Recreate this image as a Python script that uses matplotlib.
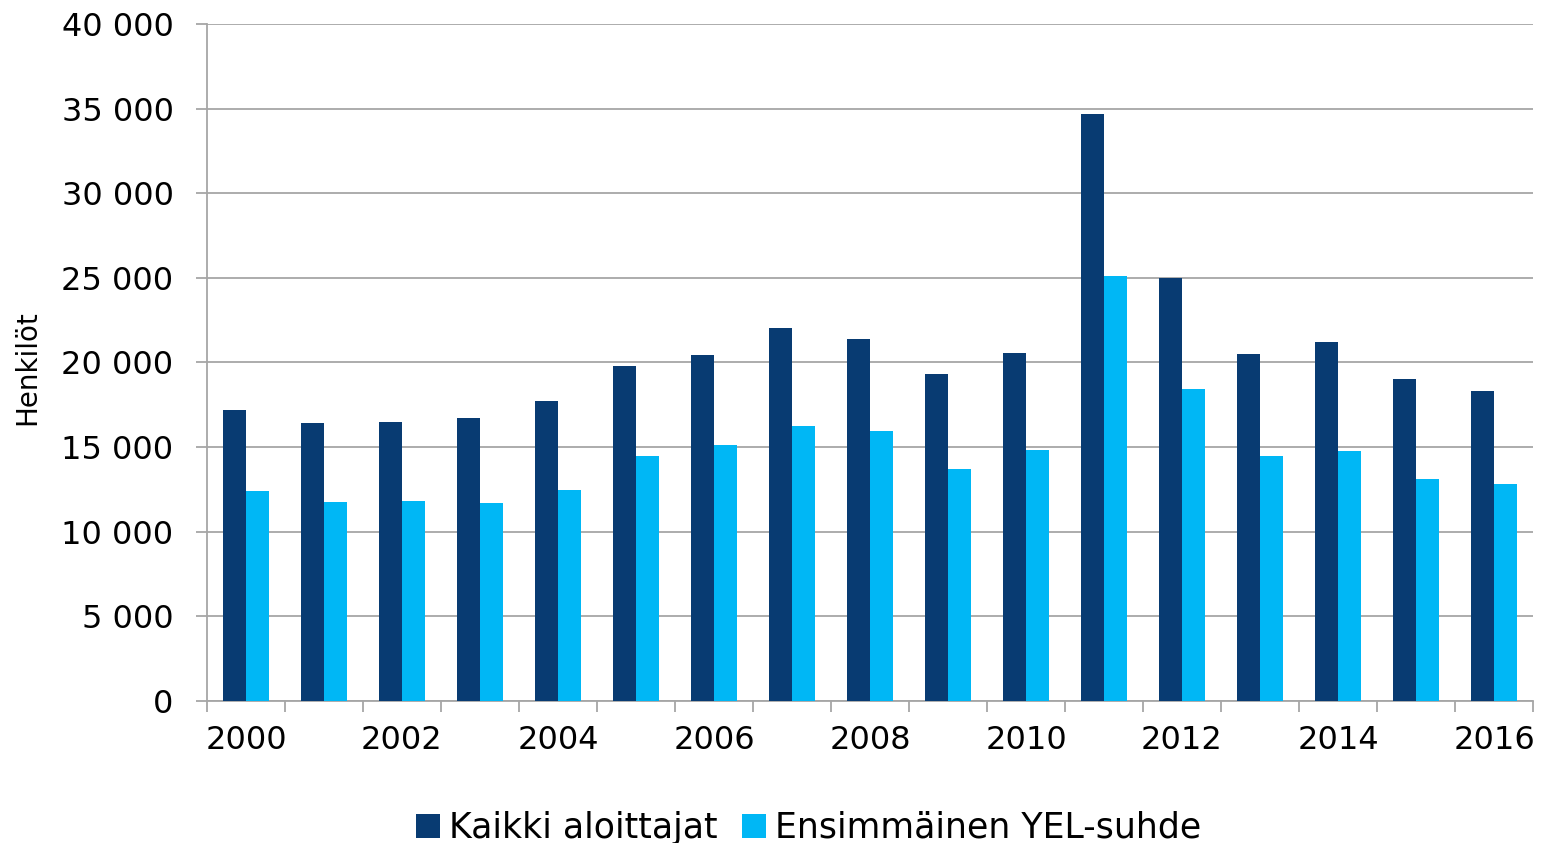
# -*- coding: utf-8 -*-
"""
Aloittaneet yrittäjät vuosittain, kaikki aloittajat ja ensimmäinen YEL-suhde.
"""

import matplotlib as mpl
import matplotlib.pyplot as plt
import numpy as np
from matplotlib.ticker import FuncFormatter

YEARS = list(range(2000, 2017))
KAIKKI = [17200, 16400, 16500, 16700, 17700, 19800, 20450, 22050, 21400,
          19300, 20580, 34670, 24980, 20530, 21200, 19010, 18340]
ENSIMMAINEN = [12400, 11750, 11800, 11700, 12450, 14450, 15100, 16250, 15950,
               13700, 14820, 25130, 18420, 14460, 14760, 13100, 12800]
SERIES_NAMES = ["Kaikki aloittajat", "Ensimmäinen YEL-suhde"]
Y_LABEL = "Henkilöt"

COLOR_DARK = "#083B72"
COLOR_LIGHT = "#00B7F5"
GRID_COLOR = "#A6A6A6"
BAR_W = 0.29
FS = 23
RCPARAMS = {
    "font.family": "DejaVu Sans",
    "font.size": FS,
}


def main():
    for key in RCPARAMS:
        mpl.rcParams[key] = RCPARAMS[key]
    fig = plt.figure(figsize=(15.49, 8.43), dpi=100)
    ax = fig.add_axes([0.1336, 0.1685, 0.8561, 0.803])
    x = np.arange(len(YEARS))
    ax.bar(x - BAR_W / 2, KAIKKI, BAR_W, color=COLOR_DARK,
           label=SERIES_NAMES[0], zorder=3)
    ax.bar(x + BAR_W / 2, ENSIMMAINEN, BAR_W, color=COLOR_LIGHT,
           label=SERIES_NAMES[1], zorder=3)

    ax.set_xlim(-0.5, len(YEARS) - 0.5)
    ax.set_ylim(0, 40000)
    ax.set_yticks(np.arange(0, 40001, 5000))
    ax.yaxis.set_major_formatter(
        FuncFormatter(lambda v, p: f"{v:,.0f}".replace(",", " "))
    )
    ax.grid(axis="y", color=GRID_COLOR, linewidth=1.3, zorder=0)
    ax.set_axisbelow(True)

    # labels under every other year, tick marks between the years
    ax.set_xticks(x)
    ax.set_xticklabels([str(y) if (y - YEARS[0]) % 2 == 0 else "" for y in YEARS])
    ax.set_xticks(np.arange(-0.5, len(YEARS), 1.0), minor=True)
    ax.tick_params(axis="x", which="major", length=0, pad=17)
    ax.tick_params(axis="x", which="minor", length=8, width=1.3,
                   color=GRID_COLOR, direction="out")
    ax.tick_params(axis="y", length=8, width=1.3, color=GRID_COLOR, pad=16)

    for side in ["top", "right"]:
        ax.spines[side].set_visible(False)
    for side in ["left", "bottom"]:
        ax.spines[side].set_color(GRID_COLOR)
        ax.spines[side].set_linewidth(1.3)

    ax.set_ylabel(Y_LABEL, fontsize=20)
    ax.yaxis.set_label_coords(-0.125, 0.493)

    fig.legend(
        loc="center",
        bbox_to_anchor=(0.522, 0.018),
        ncol=2,
        frameon=False,
        handlelength=0.7,
        handleheight=0.7,
        handletextpad=0.25,
        columnspacing=0.7,
        fontsize=25,
    )
    fig.savefig("out.png", dpi=100)


if __name__ == "__main__":
    main()
